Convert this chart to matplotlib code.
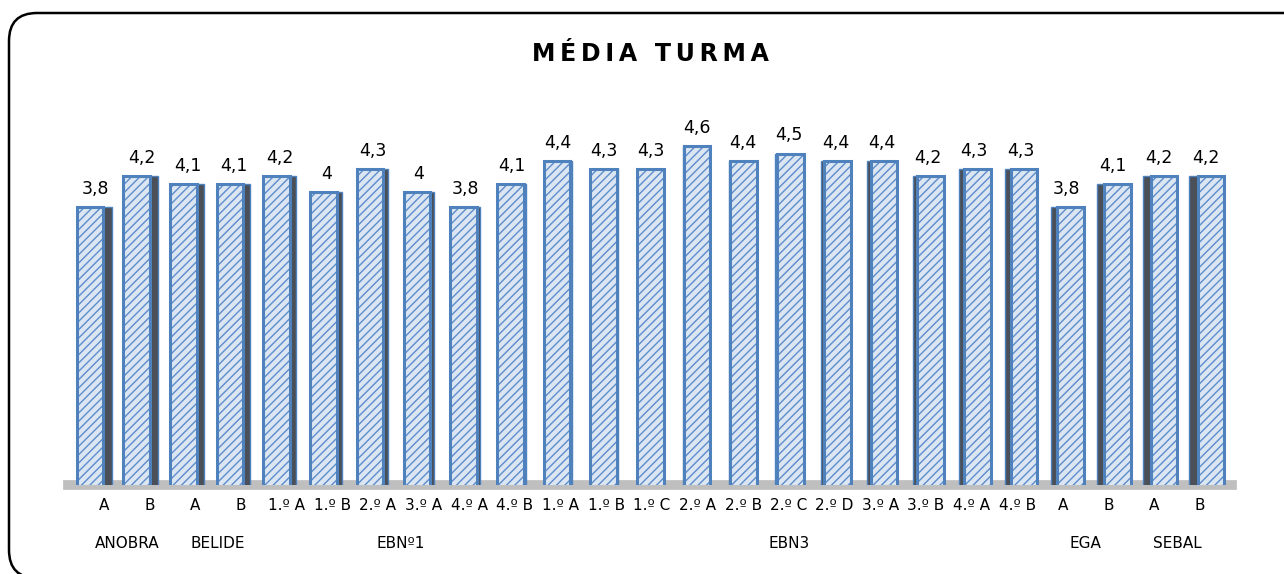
import matplotlib
matplotlib.use("Agg")
import matplotlib.pyplot as plt
from matplotlib.patches import FancyBboxPatch
from matplotlib.transforms import IdentityTransform
import numpy as np

plt.rcParams['font.family'] = ['DejaVu Sans']
plt.rcParams['hatch.linewidth'] = 1.0

title = "MÉDIA TURMA"
groups = ["ANOBRA", "BELIDE", "EBNº1", "EBN3", "EGA", "SEBAL"]
group_sizes = [2, 2, 6, 11, 2, 2]
categories = ["A", "B", "A", "B",
              "1.º A", "1.º B", "2.º A", "3.º A", "4.º A", "4.º B",
              "1.º A", "1.º B", "1.º C", "2.º A", "2.º B", "2.º C", "2.º D",
              "3.º A", "3.º B", "4.º A", "4.º B",
              "A", "B", "A", "B"]
values = [3.8, 4.2, 4.1, 4.1,
          4.2, 4.0, 4.3, 4.0, 3.8, 4.1,
          4.4, 4.3, 4.3, 4.6, 4.4, 4.5, 4.4, 4.4, 4.2, 4.3, 4.3,
          3.8, 4.1, 4.2, 4.2]

W, H = 1284, 574
fig = plt.figure(figsize=(W / 100, H / 100), dpi=100)

# rounded border (pixel coordinates, bottom/right run off the image)
border = FancyBboxPatch((9, -4), W + 40, H - 13 + 4,
                        boxstyle="round,pad=0,rounding_size=28",
                        transform=IdentityTransform(), fill=False,
                        edgecolor="black", linewidth=1.8, clip_on=False)
fig.patches.append(border)

ax = fig.add_axes([75 / W, (H - 485) / H, 1155 / W, 400 / H])
x = np.arange(len(values))
n = len(values)
bw = 0.57
mid = (n - 1) / 2
side = 0.016 * (mid - x)  # perspective side face width (signed)

# side faces
ax.bar(x + np.sign(side) * (bw / 2 + np.abs(side) / 2), values,
       width=np.abs(side), color="#4a4f58", edgecolor="#4f81bd",
       linewidth=1.0, zorder=2)
# front faces with hatch
ax.bar(x, values, width=bw, color="#dce6f2", edgecolor="#5b8ccc",
       hatch="////", linewidth=0, zorder=3)
ax.bar(x, values, width=bw, fill=False, edgecolor="#4f81bd",
       linewidth=2.2, zorder=4)

for xi, v, s in zip(x, values, side):
    txt = ("%g" % v).replace(".", ",")
    ax.text(xi + s * 0.6, v + 0.12, txt, ha="center", va="bottom",
            fontsize=12.5, color="black", zorder=5)

ax.set_xlim(-0.32, n - 1 + 0.41)
ax.set_ylim(0.15, 5.4)
ax.axis("off")

# floor
ax.axhline(0.15, xmin=-0.006, xmax=1.002, color="#bfbfbf", linewidth=7,
           zorder=1, clip_on=False)

# category labels (slight perspective compression relative to bar row)
lab_x = 0.30 + x * 0.9777
for lx, c in zip(lab_x, categories):
    ax.text(lx, -0.12, c, ha="center", va="center", fontsize=11,
            clip_on=False)

# group labels
start = 0
for g, s in zip(groups, group_sizes):
    c = 0.30 + (start + (s - 1) / 2) * 0.9777
    ax.text(c, -0.62, g, ha="center", va="center", fontsize=11,
            clip_on=False)
    start += s

fig.text(650 / W, 1 - 54 / H, "\u2009".join(title), ha="center",
         va="center", fontsize=17, fontweight="bold")

fig.savefig("out.png", dpi=100)
